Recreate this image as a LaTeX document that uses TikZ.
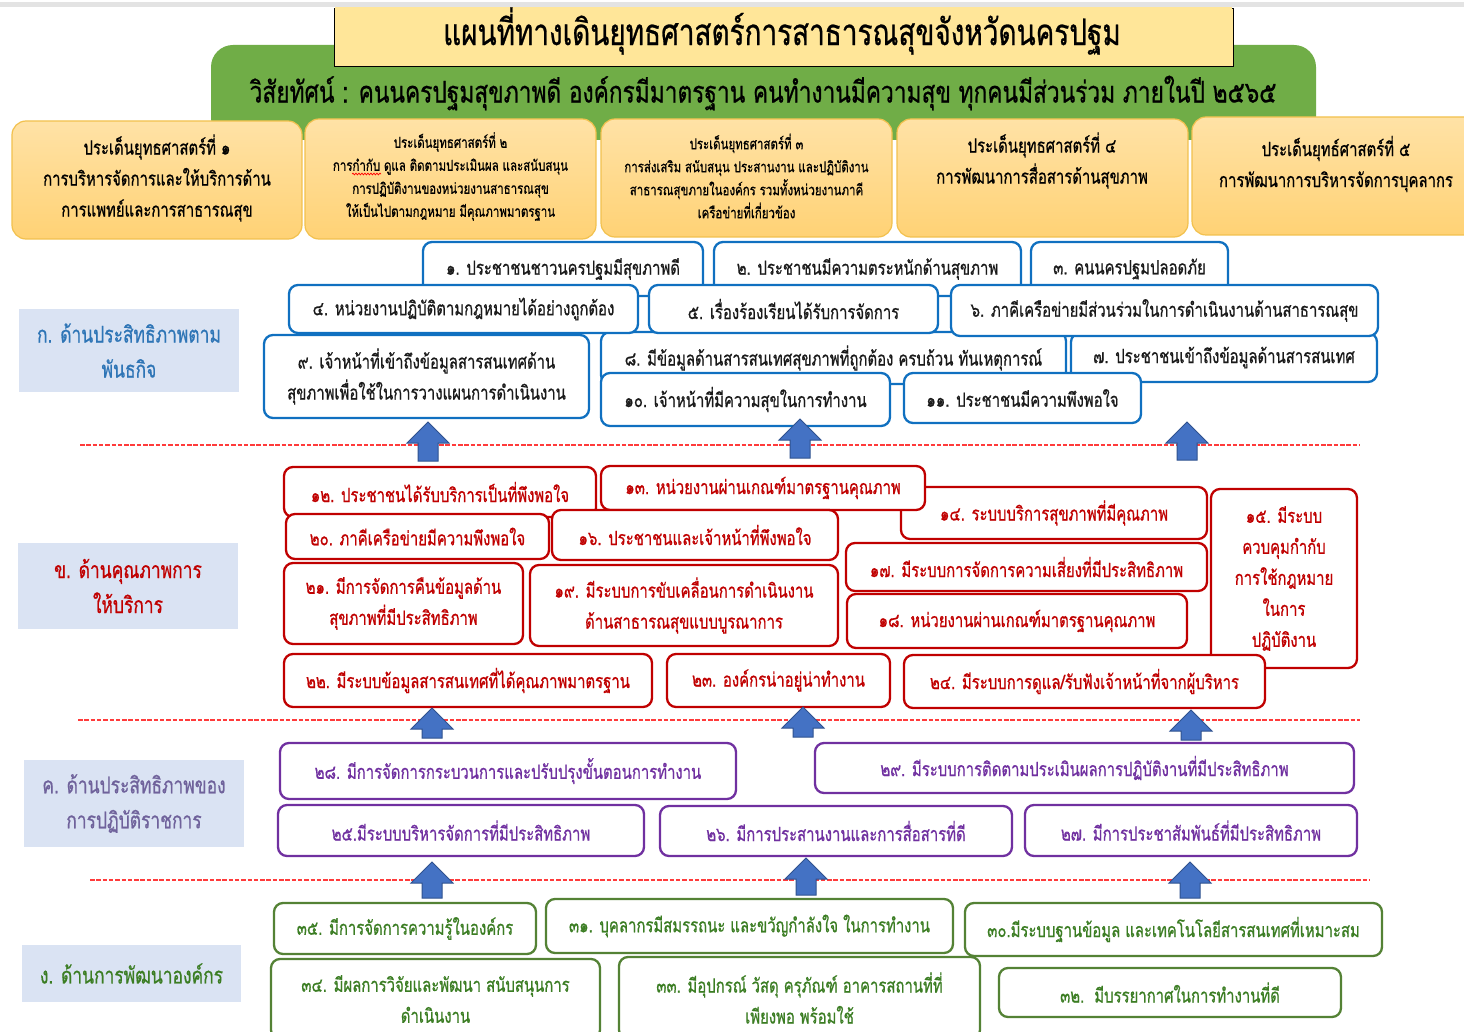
\documentclass[tikz,border=0pt]{standalone}
\usepackage{fontspec}
\newfontfamily\thai[Script=Thai,FakeStretch=0.76,FakeBold=0.7]{Loma}
\usetikzlibrary{decorations.pathmorphing}
\definecolor{blueB}{HTML}{1070C0}
\definecolor{redB}{HTML}{C00000}
\definecolor{purpB}{HTML}{7030A0}
\definecolor{greenB}{HTML}{548235}
\definecolor{greenT}{HTML}{3B7D23}
\definecolor{txt}{HTML}{1A1A1A}
\definecolor{goldB}{HTML}{F2C14E}
\definecolor{goldT}{HTML}{FFE2A6}
\definecolor{goldBt}{HTML}{FFD275}
\definecolor{catF}{HTML}{DAE3F3}
\definecolor{catB}{HTML}{2E75B6}
\definecolor{catP}{HTML}{6F629B}
\definecolor{dashR}{HTML}{FF3B3B}
\definecolor{arrF}{HTML}{4472C4}
\definecolor{arrD}{HTML}{2F528F}
\definecolor{grn}{HTML}{70AD47}
\definecolor{ttl}{HTML}{FFE699}
\newcommand\fbx{\thai\fontsize{19.6}{31}\selectfont}
\newcommand\fsm{\thai\fontsize{15.1}{23}\selectfont}
\newcommand\fcat{\thai\fontsize{22.9}{35}\selectfont}
\newcommand\fttl{\thai\fontsize{36.7}{40}\selectfont}
\newcommand\fvis{\thai\fontsize{29.9}{30}\selectfont}
\newcommand\bx[7]{\node[#1,minimum width={#5-#3},minimum height={#6-#4}] (#2) at ({(#3+#5)/2},{(#4+#6)/2}) {#7};}
\newcommand\uparr[3]{\draw[arrst] (#1,#2) -- ({#1+21},{#2+21}) -- ({#1+10},{#2+21}) -- ({#1+10},#3) -- ({#1-10},#3) -- ({#1-10},{#2+21}) -- ({#1-21},{#2+21}) -- cycle;}
\begin{document}
\begin{tikzpicture}[x=1pt,y=-1pt,
  bb/.style={draw=blueB,line width=2.3pt,rounded corners=9pt,fill=white,inner sep=0pt,align=center,font=\fbx,text=txt},
  rb/.style={bb,draw=redB,text=redB},
  pb/.style={bb,draw=purpB,text=purpB},
  gb/.style={bb,draw=greenB,text=greenT},
  sb/.style={draw=goldB,line width=1.2pt,rounded corners=14pt,top color=goldT,bottom color=goldBt,inner sep=0pt,align=center,font=\fbx,text=black},
  sbt/.style={inner sep=0pt,align=center,text=black},
  cat/.style={fill=catF,inner sep=0pt,align=center,font=\fcat},
  dl/.style={draw=dashR,line width=2.6pt,dash pattern=on 4.5pt off 1.8pt},
  arrst/.style={fill=arrF,draw=arrD,line width=1pt},
  ]
\useasboundingbox[fill=white] (0,0) rectangle (1464,1032);
% green vision band
\node[fill=grn,rounded corners=22pt,minimum width=1105,minimum height=95,inner sep=0pt] (vband) at (763.5,92.5) {};
\node[draw=black,line width=0.8pt,fill=ttl,minimum width=899,minimum height=58,inner sep=0pt] (tbox) at (783.5,37) {};
\fill[ttl] (335,7.5) rectangle (1232,12);
\fill[gray!22] (0,2) rectangle (1464,7.5);
\node[font=\fttl,inner sep=0pt] (ttext) at (782,31) {แผนที่ทางเดินยุทธศาสตร์การสาธารณสุขจังหวัดนครปฐม};
\node[font=\fvis,inner sep=0pt] (vtext) at (763,93) {วิสัยทัศน์ : คนนครปฐมสุขภาพดี องค์กรมีมาตรฐาน คนทำงานมีความสุข ทุกคนมีส่วนร่วม ภายในปี ๒๕๖๕};
% strategy boxes
\bx{sb}{s1}{12}{121}{302}{239}{}
\node[sbt,font=\fbx] (s1t) at (157,178) {ประเด็นยุทธศาสตร์ที่ ๑\\การบริหารจัดการและให้บริการด้าน\\การแพทย์และการสาธารณสุข};
\bx{sb}{s2}{305}{119}{596}{239}{}
\node[sbt,font=\fsm] (s2t) at (450.5,176.5) {ประเด็นยุทธศาสตร์ที่ ๒\\การกำกับ ดูแล ติดตามประเมินผล และสนับสนุน\\การปฏิบัติงานของหน่วยงานสาธารณสุข\\ให้เป็นไปตามกฎหมาย มีคุณภาพมาตรฐาน};
\bx{sb}{s3}{601}{119}{892}{237}{}
\node[sbt,font=\fsm] (s3t) at (746.5,176) {ประเด็นยุทธศาสตร์ที่ ๓\\การส่งเสริม สนับสนุน ประสานงาน และปฏิบัติงาน\\สาธารณสุขภายในองค์กร รวมทั้งหน่วยงานภาคี\\เครือข่ายที่เกี่ยวข้อง};
\bx{sb}{s4}{897}{119}{1188}{237}{}
\node[sbt,font=\fbx] (s4t) at (1042,160.5) {ประเด็นยุทธศาสตร์ที่ ๔\\การพัฒนาการสื่อสารด้านสุขภาพ};
\bx{sb}{s5}{1192}{117}{1490}{235}{}
\node[sbt,font=\fbx] (s5t) at (1336,164) {ประเด็นยุทธ์ศาสตร์ที่ ๕\\การพัฒนาการบริหารจัดการบุคลากร};
\draw[red,line width=0.7pt,decorate,decoration={snake,amplitude=0.9pt,segment length=3pt}] (352,174) -- (381,174);
% category labels
\bx{cat,text=catB}{ca}{19}{309}{239}{392}{ก. ด้านประสิทธิภาพตาม\\พันธกิจ}
\bx{cat,text=redB}{cb}{18}{543}{238}{629}{ข. ด้านคุณภาพการ\\ให้บริการ}
\bx{cat,text=catP}{cc}{24}{760}{244}{847}{ค. ด้านประสิทธิภาพของ\\การปฏิบัติราชการ}
\bx{cat,text=greenT}{cd}{22}{945}{241}{1002}{ง. ด้านการพัฒนาองค์กร}
% row A (blue)
\bx{bb}{b1}{423}{242}{703}{296}{๑. ประชาชนชาวนครปฐมมีสุขภาพดี}
\bx{bb}{b2}{714}{242}{1021}{296}{๒. ประชาชนมีความตระหนักด้านสุขภาพ}
\bx{bb}{b3}{1031}{242}{1228}{296}{๓. คนนครปฐมปลอดภัย}
\bx{bb}{b8}{601}{332}{1066}{384}{๘. มีข้อมูลด้านสารสนเทศสุขภาพที่ถูกต้อง ครบถ้วน ทันเหตุการณ์}
\bx{bb}{b7}{1071}{333}{1377}{382}{๗. ประชาชนเข้าถึงข้อมูลด้านสารสนเทศ}
\bx{bb}{b4}{289}{285}{638}{333}{๔. หน่วยงานปฏิบัติตามกฎหมายได้อย่างถูกต้อง}
\bx{bb}{b5}{649}{285}{938}{333}{๕. เรื่องร้องเรียนได้รับการจัดการ}
\bx{bb}{b6}{951}{285}{1378}{336}{๖. ภาคีเครือข่ายมีส่วนร่วมในการดำเนินงานด้านสาธารณสุข}
\bx{bb}{b9}{264}{335}{589}{418}{๙. เจ้าหน้าที่เข้าถึงข้อมูลสารสนเทศด้าน\\สุขภาพเพื่อใช้ในการวางแผนการดำเนินงาน}
\bx{bb}{b10}{601}{373}{890}{426}{๑๐. เจ้าหน้าที่มีความสุขในการทำงาน}
\bx{bb}{b11}{904}{373}{1141}{423}{๑๑. ประชาชนมีความพึงพอใจ}
% row B (red)
\bx{rb}{r14}{901}{487}{1207}{539}{๑๔. ระบบบริการสุขภาพที่มีคุณภาพ}
\bx{rb}{r12}{284}{467}{596}{517}{๑๒. ประชาชนได้รับบริการเป็นที่พึงพอใจ}
\bx{rb}{r13}{601}{466}{925}{510}{๑๓. หน่วยงานผ่านเกณฑ์มาตรฐานคุณภาพ}
\bx{rb}{r20}{286}{514}{549}{559}{๒๐. ภาคีเครือข่ายมีความพึงพอใจ}
\bx{rb}{r16}{552}{510}{838}{560}{๑๖. ประชาชนและเจ้าหน้าที่พึงพอใจ}
\bx{rb}{r17}{846}{543}{1207}{591}{๑๗. มีระบบการจัดการความเสี่ยงที่มีประสิทธิภาพ}
\bx{rb}{r18}{847}{594}{1187}{648}{๑๘. หน่วยงานผ่านเกณฑ์มาตรฐานคุณภาพ}
\bx{rb}{r21}{284}{563}{523}{644}{๒๑. มีการจัดการคืนข้อมูลด้าน\\สุขภาพที่มีประสิทธิภาพ}
\bx{rb}{r19}{530}{565}{838}{646}{๑๙. มีระบบการขับเคลื่อนการดำเนินงาน\\ด้านสาธารณสุขแบบบูรณาการ}
\bx{rb}{r15}{1211}{489}{1357}{668}{๑๕. มีระบบ\\ควบคุมกำกับ\\การใช้กฎหมาย\\ในการ\\ปฏิบัติงาน}
\bx{rb}{r22}{284}{654}{652}{707}{๒๒. มีระบบข้อมูลสารสนเทศที่ได้คุณภาพมาตรฐาน}
\bx{rb}{r23}{667}{654}{890}{707}{๒๓. องค์กรน่าอยู่น่าทำงาน}
\bx{rb}{r24}{904}{655}{1265}{708}{๒๔. มีระบบการดูแล/รับฟังเจ้าหน้าที่จากผู้บริหาร}
% row C (purple)
\bx{pb}{p28}{280}{743}{736}{799}{๒๘. มีการจัดการกระบวนการและปรับปรุงขั้นตอนการทำงาน}
\bx{pb}{p29}{815}{743}{1354}{793}{๒๙. มีระบบการติดตามประเมินผลการปฏิบัติงานที่มีประสิทธิภาพ}
\bx{pb}{p25}{278}{805}{644}{856}{๒๕.มีระบบบริหารจัดการที่มีประสิทธิภาพ}
\bx{pb}{p26}{660}{806}{1012}{856}{๒๖. มีการประสานงานและการสื่อสารที่ดี}
\bx{pb}{p27}{1025}{805}{1357}{856}{๒๗. มีการประชาสัมพันธ์ที่มีประสิทธิภาพ}
% row D (green)
\bx{gb}{g35}{274}{903}{536}{954}{๓๕. มีการจัดการความรู้ในองค์กร}
\bx{gb}{g31}{546}{899}{953}{953}{๓๑. บุคลากรมีสมรรถนะ และขวัญกำลังใจ ในการทำงาน}
\bx{gb}{g30}{965}{903}{1382}{956}{๓๐.มีระบบฐานข้อมูล และเทคโนโลยีสารสนเทศที่เหมาะสม}
\bx{gb}{g34}{271}{959}{600}{1039}{๓๔. มีผลการวิจัยและพัฒนา สนับสนุนการ\\ดำเนินงาน}
\bx{gb}{g33}{619}{957}{980}{1039}{๓๓. มีอุปกรณ์ วัสดุ ครุภัณฑ์ อาคารสถานที่ที่\\เพียงพอ พร้อมใช้}
\bx{gb}{g32}{999}{968}{1341}{1017}{๓๒.~~มีบรรยากาศในการทำงานที่ดี}
% dashed separators
\coordinate (d1a) at (80,445); \coordinate (d1b) at (1360,445);
\coordinate (d2a) at (78,720); \coordinate (d2b) at (1360,720);
\coordinate (d3a) at (90,880); \coordinate (d3b) at (1370,880);
\draw[dl] (d1a) -- (d1b);
\draw[dl] (d2a) -- (d2b);
\draw[dl] (d3a) -- (d3b);
% block arrows
\uparr{428}{422}{461}
\uparr{800}{419}{458}
\uparr{1187}{422}{460}
\uparr{432}{708}{738}
\uparr{803}{707}{737}
\uparr{1191}{710}{740}
\uparr{432}{862}{898}
\uparr{806}{858}{895}
\uparr{1190}{862}{898}
\end{tikzpicture}
\end{document}
